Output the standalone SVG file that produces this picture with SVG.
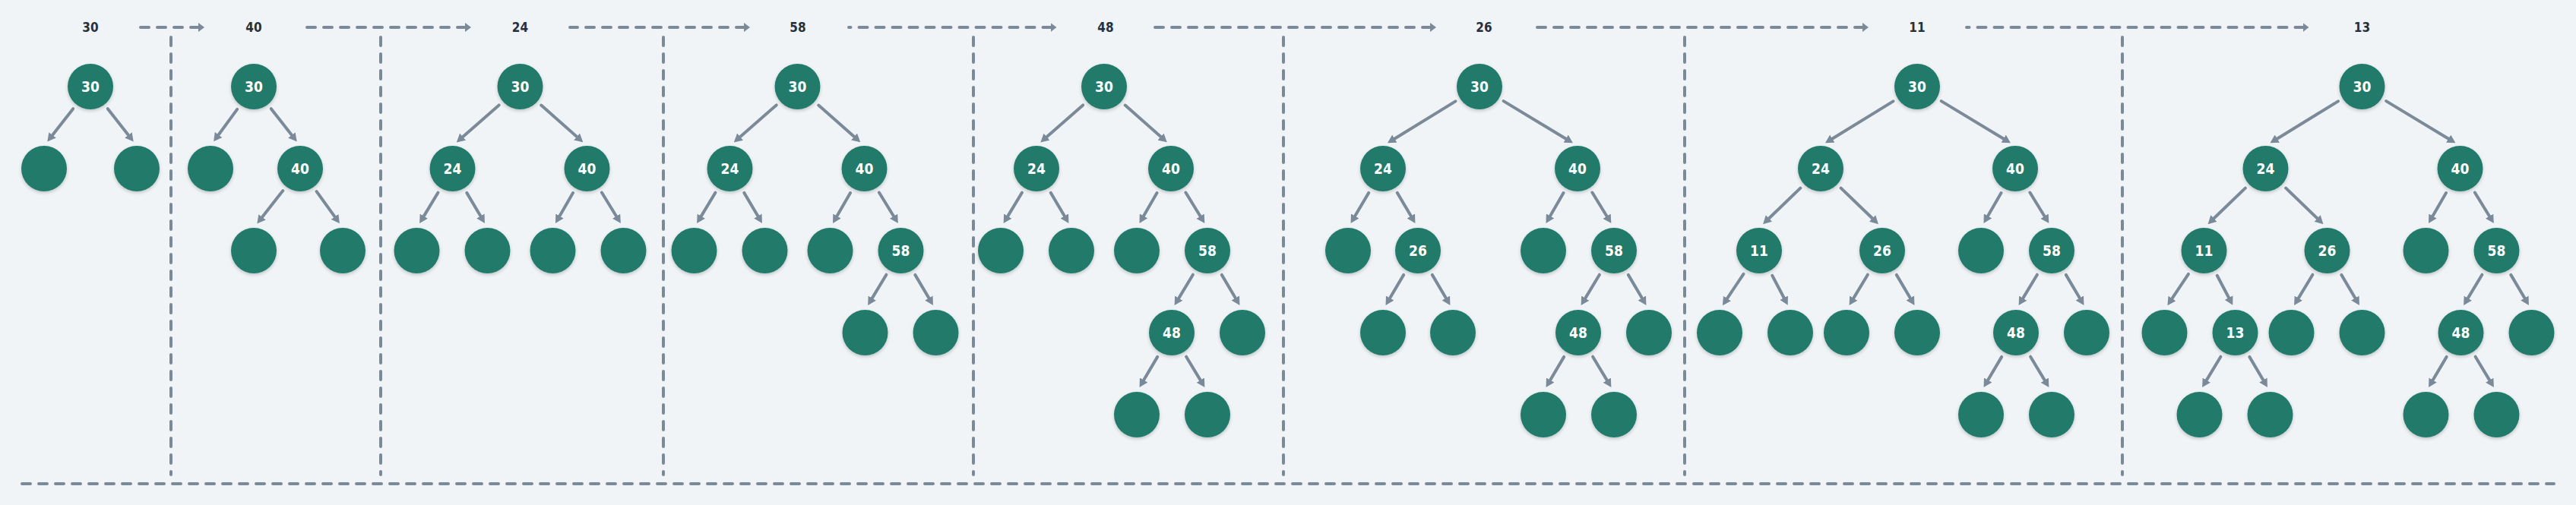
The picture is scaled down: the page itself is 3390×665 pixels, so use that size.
<svg xmlns="http://www.w3.org/2000/svg" width="3390" height="665" viewBox="0 0 3390 665">
<style>
.bg{fill:#f0f4f7}
.node circle{fill:#207a6a;filter:url(#sh)}
.node text{fill:#ffffff;font-family:"DejaVu Sans Condensed","DejaVu Sans","Liberation Sans",sans-serif;font-stretch:condensed;font-weight:bold;font-size:19px;text-anchor:middle}
.lbl{fill:#27303a;font-family:"DejaVu Sans Condensed","DejaVu Sans","Liberation Sans",sans-serif;font-stretch:condensed;font-weight:bold;font-size:17px;text-anchor:middle}
.edge line{stroke:#7b8a99;stroke-width:4;stroke-linecap:round;marker-end:url(#ah)}
.dash{stroke:#7b8a99;stroke-width:4;stroke-linecap:round;stroke-dasharray:11 11;fill:none}
.seq{marker-start:url(#ahs)}
</style>
<defs>
<filter id="sh" x="-30%" y="-30%" width="160%" height="170%">
<feDropShadow dx="0" dy="2" stdDeviation="2" flood-color="#000" flood-opacity="0.2"/>
</filter>
<marker id="ah" markerUnits="userSpaceOnUse" markerWidth="11" markerHeight="12" refX="5" refY="6" orient="auto" viewBox="0 0 11 12">
<path d="M0,0 L11,6 L0,12 z" fill="#7b8a99"/>
</marker>
<marker id="ahs" markerUnits="userSpaceOnUse" markerWidth="9" markerHeight="12" refX="1" refY="6" orient="auto-start-reverse" viewBox="0 0 9 12">
<path d="M0,0 L8,6 L0,12 z" fill="#7b8a99"/>
</marker>
</defs>
<rect class="bg" x="0" y="0" width="3390" height="665"/>

<g id="frame">
<line class="dash" x1="225" y1="49" x2="225" y2="625"/>
<line class="dash" x1="501" y1="49" x2="501" y2="625"/>
<line class="dash" x1="873" y1="49" x2="873" y2="625"/>
<line class="dash" x1="1281" y1="49" x2="1281" y2="625"/>
<line class="dash" x1="1689" y1="49" x2="1689" y2="625"/>
<line class="dash" x1="2217" y1="49" x2="2217" y2="625"/>
<line class="dash" x1="2793" y1="49" x2="2793" y2="625"/>
<line class="dash" x1="29" y1="637" x2="3361" y2="637"/>
</g>

<g id="sequence">
<text class="lbl" x="119" y="42">30</text>
<text class="lbl" x="334" y="42">40</text>
<text class="lbl" x="684.5" y="42">24</text>
<text class="lbl" x="1050" y="42">58</text>
<text class="lbl" x="1455" y="42">48</text>
<text class="lbl" x="1953" y="42">26</text>
<text class="lbl" x="2523" y="42">11</text>
<text class="lbl" x="3108.5" y="42">13</text>
<line class="dash seq" x1="262" y1="36" x2="185" y2="36"/>
<line class="dash seq" x1="613" y1="36" x2="399.5" y2="36"/>
<line class="dash seq" x1="980" y1="36" x2="750" y2="36"/>
<line class="dash seq" x1="1383.5" y1="36" x2="1117" y2="36"/>
<line class="dash seq" x1="1883" y1="36" x2="1520" y2="36"/>
<line class="dash seq" x1="2452" y1="36" x2="2019" y2="36"/>
<line class="dash seq" x1="3031.5" y1="36" x2="2588" y2="36"/>
</g>

<g id="connectors" class="edge">
<line x1="96.21" y1="143.15" x2="66.01" y2="181.76"/>
<line x1="141.79" y1="143.15" x2="171.99" y2="181.76"/>

<line x1="312.17" y1="143.87" x2="284.67" y2="181.51"/>
<line x1="356.79" y1="143.15" x2="386.99" y2="181.76"/>
<line x1="372.21" y1="251.15" x2="342.01" y2="289.76"/>
<line x1="416.58" y1="252.06" x2="443.42" y2="289.44"/>

<line x1="656.67" y1="138.39" x2="605.28" y2="183.43"/>
<line x1="712.19" y1="138.54" x2="762.77" y2="183.37"/>
<line x1="576.40" y1="253.69" x2="555.21" y2="288.87"/>
<line x1="614.30" y1="253.87" x2="634.90" y2="288.80"/>
<line x1="754.01" y1="254.05" x2="734.00" y2="288.74"/>
<line x1="791.89" y1="253.51" x2="813.69" y2="288.93"/>

<line x1="1021.67" y1="138.39" x2="970.28" y2="183.43"/>
<line x1="1077.19" y1="138.54" x2="1127.77" y2="183.37"/>
<line x1="941.40" y1="253.69" x2="920.21" y2="288.87"/>
<line x1="979.30" y1="253.87" x2="999.90" y2="288.80"/>
<line x1="1119.01" y1="254.05" x2="1099.00" y2="288.74"/>
<line x1="1156.89" y1="253.51" x2="1178.69" y2="288.93"/>
<line x1="1166.40" y1="361.69" x2="1145.21" y2="396.87"/>
<line x1="1204.30" y1="361.87" x2="1224.90" y2="396.80"/>

<line x1="1425.17" y1="138.39" x2="1373.78" y2="183.43"/>
<line x1="1480.69" y1="138.54" x2="1531.27" y2="183.37"/>
<line x1="1344.90" y1="253.69" x2="1323.71" y2="288.87"/>
<line x1="1382.80" y1="253.87" x2="1403.40" y2="288.80"/>
<line x1="1522.51" y1="254.05" x2="1502.50" y2="288.74"/>
<line x1="1560.39" y1="253.51" x2="1582.19" y2="288.93"/>
<line x1="1569.90" y1="361.69" x2="1548.71" y2="396.87"/>
<line x1="1607.80" y1="361.87" x2="1628.40" y2="396.80"/>
<line x1="1523.20" y1="469.87" x2="1502.60" y2="504.80"/>
<line x1="1561.10" y1="469.69" x2="1582.29" y2="504.87"/>

<line x1="1915.47" y1="133.36" x2="1831.08" y2="185.20"/>
<line x1="1978.66" y1="133.14" x2="2064.87" y2="185.27"/>
<line x1="1801.20" y1="253.87" x2="1780.60" y2="288.80"/>
<line x1="1838.80" y1="253.87" x2="1859.40" y2="288.80"/>
<line x1="1847.20" y1="361.87" x2="1826.60" y2="396.80"/>
<line x1="1884.80" y1="361.87" x2="1905.40" y2="396.80"/>
<line x1="2057.51" y1="254.05" x2="2037.50" y2="288.74"/>
<line x1="2095.39" y1="253.51" x2="2117.19" y2="288.93"/>
<line x1="2104.90" y1="361.69" x2="2083.71" y2="396.87"/>
<line x1="2142.80" y1="361.87" x2="2163.40" y2="396.80"/>
<line x1="2058.20" y1="469.87" x2="2037.60" y2="504.80"/>
<line x1="2096.10" y1="469.69" x2="2117.29" y2="504.87"/>

<line x1="2491.47" y1="133.36" x2="2407.08" y2="185.20"/>
<line x1="2554.66" y1="133.14" x2="2640.87" y2="185.27"/>
<line x1="2369.35" y1="247.66" x2="2324.36" y2="290.98"/>
<line x1="2422.65" y1="247.66" x2="2467.64" y2="290.98"/>
<line x1="2294.47" y1="360.79" x2="2270.21" y2="397.18"/>
<line x1="2332.21" y1="362.75" x2="2349.95" y2="396.50"/>
<line x1="2457.90" y1="361.69" x2="2436.71" y2="396.87"/>
<line x1="2495.80" y1="361.87" x2="2516.40" y2="396.80"/>
<line x1="2633.51" y1="254.05" x2="2613.50" y2="288.74"/>
<line x1="2671.39" y1="253.51" x2="2693.19" y2="288.93"/>
<line x1="2680.90" y1="361.69" x2="2659.71" y2="396.87"/>
<line x1="2718.80" y1="361.87" x2="2739.40" y2="396.80"/>
<line x1="2634.20" y1="469.87" x2="2613.60" y2="504.80"/>
<line x1="2672.10" y1="469.69" x2="2693.29" y2="504.87"/>

<line x1="3076.97" y1="133.36" x2="2992.58" y2="185.20"/>
<line x1="3140.16" y1="133.14" x2="3226.37" y2="185.27"/>
<line x1="2954.85" y1="247.66" x2="2909.86" y2="290.98"/>
<line x1="3008.15" y1="247.66" x2="3053.14" y2="290.98"/>
<line x1="2879.97" y1="360.79" x2="2855.71" y2="397.18"/>
<line x1="2917.71" y1="362.75" x2="2935.45" y2="396.50"/>
<line x1="2922.40" y1="469.69" x2="2901.21" y2="504.87"/>
<line x1="2960.30" y1="469.87" x2="2980.90" y2="504.80"/>
<line x1="3043.40" y1="361.69" x2="3022.21" y2="396.87"/>
<line x1="3081.30" y1="361.87" x2="3101.90" y2="396.80"/>
<line x1="3219.01" y1="254.05" x2="3199.00" y2="288.74"/>
<line x1="3256.89" y1="253.51" x2="3278.69" y2="288.93"/>
<line x1="3266.40" y1="361.69" x2="3245.21" y2="396.87"/>
<line x1="3304.30" y1="361.87" x2="3324.90" y2="396.80"/>
<line x1="3219.70" y1="469.87" x2="3199.10" y2="504.80"/>
<line x1="3257.60" y1="469.69" x2="3278.79" y2="504.87"/>
</g>

<g id="step1">
<g id="s1-30" class="node"><circle cx="119" cy="114" r="30"/><text x="119" y="121">30</text></g>
<g id="s1-l" class="node"><circle cx="58" cy="222" r="30"/></g>
<g id="s1-r" class="node"><circle cx="180" cy="222" r="30"/></g>
</g>

<g id="step2">
<g id="s2-30" class="node"><circle cx="334" cy="114" r="30"/><text x="334" y="121">30</text></g>
<g id="s2-l" class="node"><circle cx="277" cy="222" r="30"/></g>
<g id="s2-40" class="node"><circle cx="395" cy="222" r="30"/><text x="395" y="229">40</text></g>
<g id="s2-40l" class="node"><circle cx="334" cy="330" r="30"/></g>
<g id="s2-40r" class="node"><circle cx="451" cy="330" r="30"/></g>
</g>

<g id="step3">
<g id="s3-30" class="node"><circle cx="684.5" cy="114" r="30"/><text x="684.5" y="121">30</text></g>
<g id="s3-24" class="node"><circle cx="595.5" cy="222" r="30"/><text x="595.5" y="229">24</text></g>
<g id="s3-40" class="node"><circle cx="772.5" cy="222" r="30"/><text x="772.5" y="229">40</text></g>
<g id="s3-24l" class="node"><circle cx="548.5" cy="330" r="30"/></g>
<g id="s3-24r" class="node"><circle cx="641.5" cy="330" r="30"/></g>
<g id="s3-40l" class="node"><circle cx="727.5" cy="330" r="30"/></g>
<g id="s3-40r" class="node"><circle cx="820.5" cy="330" r="30"/></g>
</g>

<g id="step4">
<g id="s4-30" class="node"><circle cx="1049.5" cy="114" r="30"/><text x="1049.5" y="121">30</text></g>
<g id="s4-24" class="node"><circle cx="960.5" cy="222" r="30"/><text x="960.5" y="229">24</text></g>
<g id="s4-40" class="node"><circle cx="1137.5" cy="222" r="30"/><text x="1137.5" y="229">40</text></g>
<g id="s4-24l" class="node"><circle cx="913.5" cy="330" r="30"/></g>
<g id="s4-24r" class="node"><circle cx="1006.5" cy="330" r="30"/></g>
<g id="s4-40l" class="node"><circle cx="1092.5" cy="330" r="30"/></g>
<g id="s4-58" class="node"><circle cx="1185.5" cy="330" r="30"/><text x="1185.5" y="337">58</text></g>
<g id="s4-58l" class="node"><circle cx="1138.5" cy="438" r="30"/></g>
<g id="s4-58r" class="node"><circle cx="1231.5" cy="438" r="30"/></g>
</g>

<g id="step5">
<g id="s5-30" class="node"><circle cx="1453" cy="114" r="30"/><text x="1453" y="121">30</text></g>
<g id="s5-24" class="node"><circle cx="1364" cy="222" r="30"/><text x="1364" y="229">24</text></g>
<g id="s5-40" class="node"><circle cx="1541" cy="222" r="30"/><text x="1541" y="229">40</text></g>
<g id="s5-24l" class="node"><circle cx="1317" cy="330" r="30"/></g>
<g id="s5-24r" class="node"><circle cx="1410" cy="330" r="30"/></g>
<g id="s5-40l" class="node"><circle cx="1496" cy="330" r="30"/></g>
<g id="s5-58" class="node"><circle cx="1589" cy="330" r="30"/><text x="1589" y="337">58</text></g>
<g id="s5-48" class="node"><circle cx="1542" cy="438" r="30"/><text x="1542" y="445">48</text></g>
<g id="s5-58r" class="node"><circle cx="1635" cy="438" r="30"/></g>
<g id="s5-48l" class="node"><circle cx="1496" cy="546" r="30"/></g>
<g id="s5-48r" class="node"><circle cx="1589" cy="546" r="30"/></g>
</g>

<g id="step6">
<g id="s6-30" class="node"><circle cx="1947" cy="114" r="30"/><text x="1947" y="121">30</text></g>
<g id="s6-24" class="node"><circle cx="1820" cy="222" r="30"/><text x="1820" y="229">24</text></g>
<g id="s6-40" class="node"><circle cx="2076" cy="222" r="30"/><text x="2076" y="229">40</text></g>
<g id="s6-24l" class="node"><circle cx="1774" cy="330" r="30"/></g>
<g id="s6-26" class="node"><circle cx="1866" cy="330" r="30"/><text x="1866" y="337">26</text></g>
<g id="s6-40l" class="node"><circle cx="2031" cy="330" r="30"/></g>
<g id="s6-58" class="node"><circle cx="2124" cy="330" r="30"/><text x="2124" y="337">58</text></g>
<g id="s6-26l" class="node"><circle cx="1820" cy="438" r="30"/></g>
<g id="s6-26r" class="node"><circle cx="1912" cy="438" r="30"/></g>
<g id="s6-48" class="node"><circle cx="2077" cy="438" r="30"/><text x="2077" y="445">48</text></g>
<g id="s6-58r" class="node"><circle cx="2170" cy="438" r="30"/></g>
<g id="s6-48l" class="node"><circle cx="2031" cy="546" r="30"/></g>
<g id="s6-48r" class="node"><circle cx="2124" cy="546" r="30"/></g>
</g>

<g id="step7">
<g id="s7-30" class="node"><circle cx="2523" cy="114" r="30"/><text x="2523" y="121">30</text></g>
<g id="s7-24" class="node"><circle cx="2396" cy="222" r="30"/><text x="2396" y="229">24</text></g>
<g id="s7-40" class="node"><circle cx="2652" cy="222" r="30"/><text x="2652" y="229">40</text></g>
<g id="s7-11" class="node"><circle cx="2315" cy="330" r="30"/><text x="2315" y="337">11</text></g>
<g id="s7-26" class="node"><circle cx="2477" cy="330" r="30"/><text x="2477" y="337">26</text></g>
<g id="s7-40l" class="node"><circle cx="2607" cy="330" r="30"/></g>
<g id="s7-58" class="node"><circle cx="2700" cy="330" r="30"/><text x="2700" y="337">58</text></g>
<g id="s7-11l" class="node"><circle cx="2263" cy="438" r="30"/></g>
<g id="s7-11r" class="node"><circle cx="2356" cy="438" r="30"/></g>
<g id="s7-26l" class="node"><circle cx="2430" cy="438" r="30"/></g>
<g id="s7-26r" class="node"><circle cx="2523" cy="438" r="30"/></g>
<g id="s7-48" class="node"><circle cx="2653" cy="438" r="30"/><text x="2653" y="445">48</text></g>
<g id="s7-58r" class="node"><circle cx="2746" cy="438" r="30"/></g>
<g id="s7-48l" class="node"><circle cx="2607" cy="546" r="30"/></g>
<g id="s7-48r" class="node"><circle cx="2700" cy="546" r="30"/></g>
</g>

<g id="step8">
<g id="s8-30" class="node"><circle cx="3108.5" cy="114" r="30"/><text x="3108.5" y="121">30</text></g>
<g id="s8-24" class="node"><circle cx="2981.5" cy="222" r="30"/><text x="2981.5" y="229">24</text></g>
<g id="s8-40" class="node"><circle cx="3237.5" cy="222" r="30"/><text x="3237.5" y="229">40</text></g>
<g id="s8-11" class="node"><circle cx="2900.5" cy="330" r="30"/><text x="2900.5" y="337">11</text></g>
<g id="s8-26" class="node"><circle cx="3062.5" cy="330" r="30"/><text x="3062.5" y="337">26</text></g>
<g id="s8-40l" class="node"><circle cx="3192.5" cy="330" r="30"/></g>
<g id="s8-58" class="node"><circle cx="3285.5" cy="330" r="30"/><text x="3285.5" y="337">58</text></g>
<g id="s8-11l" class="node"><circle cx="2848.5" cy="438" r="30"/></g>
<g id="s8-13" class="node"><circle cx="2941.5" cy="438" r="30"/><text x="2941.5" y="445">13</text></g>
<g id="s8-26l" class="node"><circle cx="3015.5" cy="438" r="30"/></g>
<g id="s8-26r" class="node"><circle cx="3108.5" cy="438" r="30"/></g>
<g id="s8-48" class="node"><circle cx="3238.5" cy="438" r="30"/><text x="3238.5" y="445">48</text></g>
<g id="s8-58r" class="node"><circle cx="3331.5" cy="438" r="30"/></g>
<g id="s8-13l" class="node"><circle cx="2894.5" cy="546" r="30"/></g>
<g id="s8-13r" class="node"><circle cx="2987.5" cy="546" r="30"/></g>
<g id="s8-48l" class="node"><circle cx="3192.5" cy="546" r="30"/></g>
<g id="s8-48r" class="node"><circle cx="3285.5" cy="546" r="30"/></g>
</g>
</svg>
